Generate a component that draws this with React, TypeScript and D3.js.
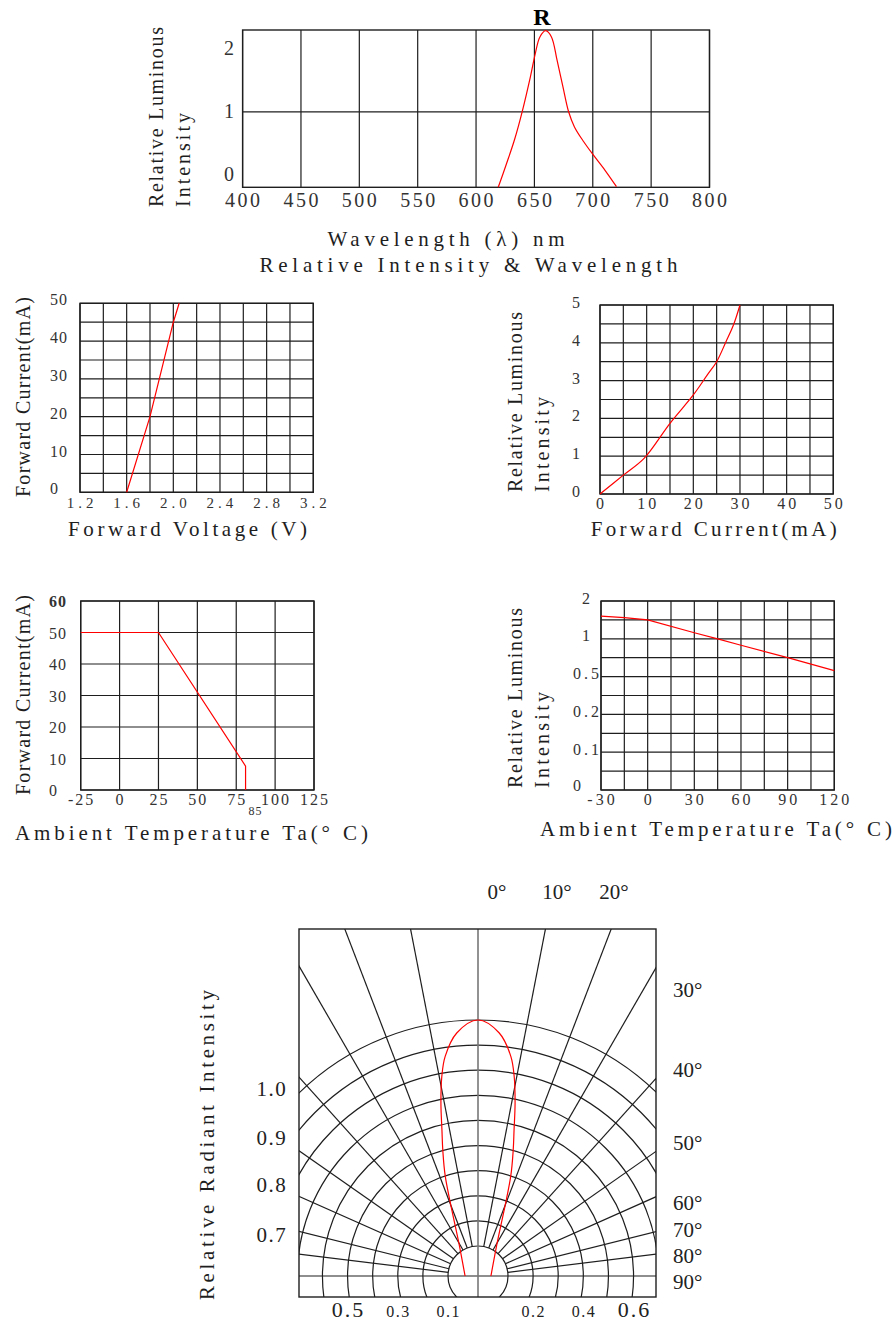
import React, { useEffect, useRef } from "react";
import * as d3 from "d3";

// Relative intensity vs wavelength
const wavelengthTicks = [400, 450, 500, 550, 600, 650, 700, 750, 800];
const spectrumTicks = [0, 1, 2];
const spectrumNm = [619, 626, 633, 639.5, 646.6, 650.8, 654.7, 659.7, 664.6, 669.4, 674.4, 679.3, 684.3, 692.4, 700.6, 710.5, 720.3];
const spectrumRel = [-0.2, 0.17, 0.56, 1.0, 1.56, 1.93, 2.19, 2.29, 2.19, 1.82, 1.4, 1.0, 0.76, 0.52, 0.31, 0.07, -0.19];

// Forward current vs forward voltage
const voltageTicks = [1.2, 1.6, 2.0, 2.4, 2.8, 3.2];
const currentTicks = [0, 10, 20, 30, 40, 50];
const ivVoltage = [1.6, 1.8, 2.0, 2.05];
const ivCurrent = [0, 20, 45, 50];

// Relative luminous intensity vs forward current
const ifTicks = [0, 10, 20, 30, 40, 50];
const luminousTicks = [0, 1, 2, 3, 4, 5];
const lumCurrent = [0, 5, 9.5, 15, 20, 23, 25, 27, 28.6, 30];
const lumRel = [0, 0.5, 0.95, 1.87, 2.62, 3.15, 3.5, 4.03, 4.47, 5];

// Forward current derating vs ambient temperature
const deratingTempTicks = [-25, 0, 25, 50, 75, 100, 125];
const deratingCurrentTicks = [0, 10, 20, 30, 40, 50, 60];
const deratingTemp = [-25, 25, 81, 81];
const deratingCurrent = [50, 50, 7.6, 0];

// Relative luminous intensity vs ambient temperature
const ambientTicks = [-30, 0, 30, 60, 90, 120];
const ambientLumTicks = [0, 0.1, 0.2, 0.5, 1, 2];
const ambientTemp = [-30, -15, 0, 30, 45, 60, 90, 120];
const ambientLum = [1.6, 1.56, 1.5, 1.16, 1.0, 0.915, 0.75, 0.58];

// Radiation diagram
const polarRings = [0.1, 0.2, 0.3, 0.4, 0.5, 0.6, 0.7, 0.8, 0.9, 1.0];
const polarSpokes = [0, 11, 21, 30, 42, 55, 66, 76, 83, 90];
const topAngleLabels = ["0°", "10°", "20°"];
const sideAngleLabels = ["30°", "40°", "50°", "60°", "70°", "80°", "90°"];
const radiantLabels = ["1.0", "0.9", "0.8", "0.7"];
const bottomLeftLabels = [0.5, 0.3, 0.1];
const bottomRightLabels = [0.2, 0.4, 0.6];
const beamAngle = [0, 5, 8.5, 10.3, 12.1, 13.9, 15.6, 18.2, 32, 90];
const beamRel = [1.0, 0.952, 0.865, 0.787, 0.685, 0.578, 0.502, 0.397, 0.119, 0.032];

const FONT = "'Liberation Serif', 'DejaVu Serif', serif";
const INK = "#1e1e1e";
const RED = "#ff0000";

function label(g: any, str: string, x: number, y: number, o: any = {}) {
  const t = g
    .append("text")
    .attr("x", x)
    .attr("y", y)
    .attr("font-family", FONT)
    .attr("font-size", o.size || 16)
    .attr("fill", o.fill || "#333")
    .attr("text-anchor", o.anchor || "middle")
    .text(str);
  if (o.spacing) t.attr("letter-spacing", o.spacing).attr("dx", o.anchor === "start" ? 0 : o.spacing / 2);
  if (o.weight) t.attr("font-weight", o.weight);
  return t;
}

// title text stretched to the reference width
function title(g: any, str: string, x: number, y: number, len: number, size = 21, rotate = false) {
  const t = g
    .append("text")
    .attr("font-family", FONT)
    .attr("font-size", size)
    .attr("fill", INK)
    .attr("text-anchor", "start")
    .attr("textLength", len)
    .attr("lengthAdjust", "spacing")
    .text(str);
  if (rotate) t.attr("transform", `translate(${x},${y}) rotate(-90)`);
  else t.attr("x", x).attr("y", y);
}

function grid(g: any, x: any, y: any, xLines: number[], yLines: number[], yGrid?: any) {
  const xr = x.range();
  const ys = yGrid || y;
  const yr = ys.range();
  const left = xr[0], right = xr[xr.length - 1];
  const bottom = yr[0], top = yr[yr.length - 1];
  g.append("g")
    .selectAll("line")
    .data(xLines)
    .join("line")
    .attr("x1", (d: number) => x(d))
    .attr("x2", (d: number) => x(d))
    .attr("y1", top)
    .attr("y2", bottom)
    .attr("stroke", INK)
    .attr("stroke-width", 1.2);
  g.append("g")
    .selectAll("line")
    .data(yLines)
    .join("line")
    .attr("x1", left)
    .attr("x2", right)
    .attr("y1", (d: number) => ys(d))
    .attr("y2", (d: number) => ys(d))
    .attr("stroke", INK)
    .attr("stroke-width", 1.2);
  g.append("rect")
    .attr("x", left)
    .attr("y", top)
    .attr("width", right - left)
    .attr("height", bottom - top)
    .attr("fill", "none")
    .attr("stroke", INK)
    .attr("stroke-width", 1.4);
}

function redLine(g: any, x: any, y: any, xs: number[], ys: number[], curve: any) {
  const pts = xs.map((v, i) => [v, ys[i]] as [number, number]);
  const line = d3
    .line<[number, number]>()
    .x((d) => x(d[0]))
    .y((d) => y(d[1]))
    .curve(curve);
  g.append("path")
    .datum(pts)
    .attr("d", line)
    .attr("fill", "none")
    .attr("stroke", RED)
    .attr("stroke-width", 1.2);
}

export default function App() {
  const ref = useRef<SVGSVGElement>(null);

  useEffect(() => {
    const svg = d3.select(ref.current);
    svg.selectAll("*").remove();

    // ---- spectrum ----
    const g1 = svg.append("g");
    const x1 = d3.scaleLinear().domain([400, 800]).range([242.6, 709.5]);
    const y1 = d3.scaleLinear().domain([-0.2, 2.3]).range([187.3, 30]);
    grid(g1, x1, y1, wavelengthTicks, [1]);
    redLine(g1, x1, y1, spectrumNm, spectrumRel, d3.curveCatmullRom.alpha(0.5));
    wavelengthTicks.forEach((v) => label(g1, String(v), x1(v), 207, { size: 20, spacing: 2.5 }));
    spectrumTicks.forEach((v) => label(g1, String(v), 229, y1(v) + 6, { size: 20 }));
    label(g1, "R", 542, 25, { size: 24, weight: "bold", fill: "#000" });
    title(g1, "Relative Luminous", 163, 207, 180, 20, true);
    title(g1, "Intensity", 190, 207, 94, 20, true);
    title(g1, "Wavelength (λ) nm", 327.5, 246, 237);
    title(g1, "Relative Intensity & Wavelength", 259.4, 272, 418);

    // ---- forward voltage ----
    const g2 = svg.append("g");
    const x2 = d3.scaleLinear().domain([1.2, 3.2]).range([80, 313.3]);
    const y2 = d3.scaleLinear().domain([0, 50]).range([492.3, 303.3]);
    grid(g2, x2, y2, d3.range(1.2, 3.21, 0.2), d3.range(0, 51, 5));
    redLine(g2, x2, y2, ivVoltage, ivCurrent, d3.curveLinear);
    voltageTicks.forEach((v) => label(g2, v.toFixed(1), x2(v), 508, { size: 15, spacing: 4 }));
    currentTicks.forEach((v) => label(g2, String(v), 50, y2(v) + 2, { size: 16, anchor: "start", spacing: 1 }));
    title(g2, "Forward Current(mA)", 30, 497, 200, 20, true);
    title(g2, "Forward Voltage (V)", 68, 536, 239);

    // ---- luminous vs forward current ----
    const g3 = svg.append("g");
    const x3 = d3.scaleLinear().domain([0, 50]).range([600, 833.3]);
    const y3 = d3.scaleLinear().domain([0, 5]).range([494, 305]);
    grid(g3, x3, y3, d3.range(0, 51, 5), d3.range(0, 5.01, 0.5));
    redLine(g3, x3, y3, lumCurrent, lumRel, d3.curveCatmullRom.alpha(0.5));
    ifTicks.forEach((v) => label(g3, String(v), x3(v), 509, { size: 16, spacing: 3 }));
    luminousTicks.forEach((v) => label(g3, String(v), 572, y3(v) + 3, { size: 16, anchor: "start" }));
    title(g3, "Relative Luminous", 521.7, 492, 180, 20, true);
    title(g3, "Intensity", 549, 492, 95, 20, true);
    title(g3, "Forward Current(mA)", 590.7, 536, 246);

    // ---- derating ----
    const g4 = svg.append("g");
    const x4 = d3.scaleLinear().domain([-25, 125]).range([80.7, 314]);
    const y4 = d3.scaleLinear().domain([0, 60]).range([790, 601]);
    grid(g4, x4, y4, deratingTempTicks, deratingCurrentTicks);
    redLine(g4, x4, y4, deratingTemp, deratingCurrent, d3.curveLinear);
    deratingTempTicks.forEach((v) => label(g4, String(v), x4(v), 805, { size: 16, spacing: 2 }));
    deratingCurrentTicks.forEach((v) =>
      label(g4, String(v), 49, y4(v) + 6, { size: 16, anchor: "start", spacing: 1, weight: v === 60 ? "bold" : undefined })
    );
    label(g4, "85", 255, 815, { size: 12, spacing: 1 });
    title(g4, "Forward Current(mA)", 30, 795, 200, 20, true);
    title(g4, "Ambient Temperature Ta(° C)", 15, 840, 353);

    // ---- luminous vs ambient temperature ----
    const g5 = svg.append("g");
    const x5 = d3.scaleLinear().domain([-30, 120]).range([601, 834.3]);
    const yIdx = d3.scaleLinear().domain([0, 10]).range([790, 601]);
    const y5 = d3
      .scaleLinear()
      .domain(ambientLumTicks)
      .range(ambientLumTicks.map((_, i) => yIdx(i * 2)));
    grid(g5, x5, y5, d3.range(-30, 121, 15), d3.range(0, 11), yIdx);
    redLine(g5, x5, y5, ambientTemp, ambientLum, d3.curveLinear);
    ambientTicks.forEach((v) => label(g5, String(v), x5(v), 805, { size: 16, spacing: 3 }));
    ambientLumTicks.forEach((v) =>
      label(g5, String(v), v === 0 ? 577 : 586, y5(v) + (v === 0 ? 1 : 2.5), { size: 16, spacing: 3 })
    );
    title(g5, "Relative Luminous", 521.7, 788, 180, 20, true);
    title(g5, "Intensity", 549, 788, 96, 20, true);
    title(g5, "Ambient Temperature Ta(° C)", 540, 836, 352);

    // ---- radiation diagram ----
    const cx = 478, cy = 1276;
    const fx0 = 299, fx1 = 656, fy0 = 929, fy1 = 1297;
    const r = d3.scaleLinear().domain([0.1, 1]).range([30, 256]);
    const rad = (a: number) => (a * Math.PI) / 180;
    svg
      .append("defs")
      .append("clipPath")
      .attr("id", "polarClip")
      .append("rect")
      .attr("x", fx0)
      .attr("y", fy0)
      .attr("width", fx1 - fx0)
      .attr("height", fy1 - fy0);
    const pg = svg.append("g").attr("clip-path", "url(#polarClip)");
    pg.selectAll("circle")
      .data(polarRings)
      .join("circle")
      .attr("cx", cx)
      .attr("cy", cy)
      .attr("r", (d) => r(d))
      .attr("fill", "none")
      .attr("stroke", INK)
      .attr("stroke-width", 1.2);
    const spokes = polarSpokes.filter((a) => a > 0 && a < 90).flatMap((a) => [a, -a]);
    pg.append("g")
      .selectAll("line")
      .data(spokes)
      .join("line")
      .attr("x1", (a) => cx + r(0.1) * Math.sin(rad(a)))
      .attr("y1", (a) => cy - r(0.1) * Math.cos(rad(a)))
      .attr("x2", (a) => cx + 600 * Math.sin(rad(a)))
      .attr("y2", (a) => cy - 600 * Math.cos(rad(a)))
      .attr("stroke", INK)
      .attr("stroke-width", 1.2);
    pg.append("line")
      .attr("x1", fx0)
      .attr("x2", fx1)
      .attr("y1", cy)
      .attr("y2", cy)
      .attr("stroke", INK)
      .attr("stroke-width", 1.2);
    pg.append("line")
      .attr("x1", cx)
      .attr("x2", cx)
      .attr("y1", fy0)
      .attr("y2", fy1)
      .attr("stroke", "#777")
      .attr("stroke-width", 1.6);
    const beam: [number, number][] = [
      ...beamAngle.map((a, i) => [-a, beamRel[i]] as [number, number]).reverse(),
      ...beamAngle.slice(1).map((a, i) => [a, beamRel[i + 1]] as [number, number]),
    ];
    const beamLine = d3
      .lineRadial<[number, number]>()
      .angle((d) => rad(d[0]))
      .radius((d) => r(d[1]))
      .curve(d3.curveCatmullRom.alpha(0.5));
    pg.append("path")
      .datum(beam)
      .attr("d", beamLine)
      .attr("transform", `translate(${cx},${cy})`)
      .attr("fill", "none")
      .attr("stroke", RED)
      .attr("stroke-width", 1.2);
    svg
      .append("rect")
      .attr("x", fx0)
      .attr("y", fy0)
      .attr("width", fx1 - fx0)
      .attr("height", fy1 - fy0)
      .attr("fill", "none")
      .attr("stroke", INK)
      .attr("stroke-width", 1.4);

    const topX = [497, 557, 614];
    topAngleLabels.forEach((s, i) => label(svg, s, topX[i], 899, { size: 21, fill: "#222" }));
    const sideY = [990, 1070, 1143, 1203, 1230, 1256, 1282];
    sideAngleLabels.forEach((s, i) => label(svg, s, 673, sideY[i] + 7, { size: 21, anchor: "start", fill: "#222" }));
    const radY = [1089, 1138, 1185, 1235];
    radiantLabels.forEach((s, i) => label(svg, s, 271, radY[i] + 7, { size: 21, spacing: 1.5, fill: "#222" }));
    bottomLeftLabels.forEach((v) =>
      label(svg, String(v), cx - r(v), 1317, { size: v === 0.5 ? 22 : 16, spacing: v === 0.5 ? 2 : 1.5, fill: "#222" })
    );
    bottomRightLabels.forEach((v) =>
      label(svg, String(v), cx + r(v), 1317, { size: v === 0.6 ? 22 : 16, spacing: v === 0.6 ? 2 : 1.5, fill: "#222" })
    );
    title(svg, "Relative Radiant Intensity", 214, 1300, 310, 21, true);
  }, []);

  return (
    <div style={{ position: "absolute", left: 0, top: 0 }}>
      <svg ref={ref} width={895} height={1323} style={{ display: "block", background: "#fff" }} />
    </div>
  );
}
